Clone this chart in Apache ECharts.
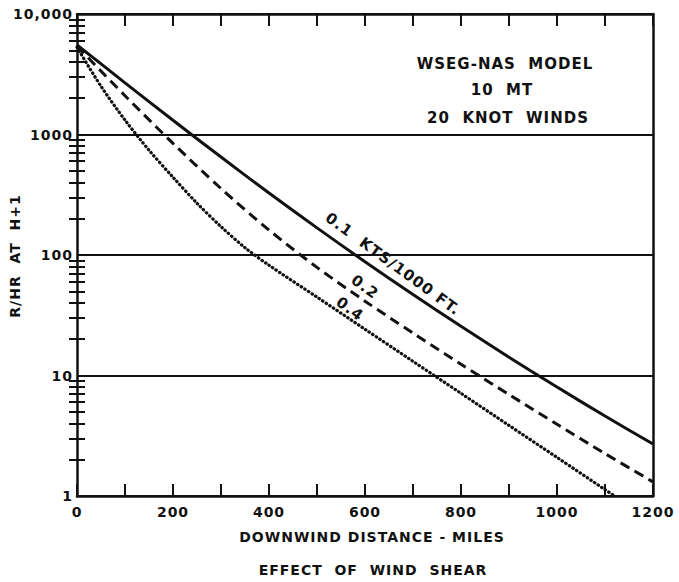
<!DOCTYPE html>
<html>
<head>
<meta charset="utf-8">
<script src="https://cdn.jsdelivr.net/npm/echarts@6/dist/echarts.min.js"></script>
<style>
  html, body { margin: 0; padding: 0; background: #ffffff; }
  #chart { width: 679px; height: 582px; }
  #chart text { letter-spacing: 1px; }
</style>
</head>
<body>
<div id="chart"></div>
<script>
// Downwind distance (miles) at which each curve is sampled
const distanceMiles = [0, 100, 200, 300, 400, 500, 600, 700, 800, 900, 1000, 1100, 1200];
const distanceMilesShear04 = [0, 50, 100, 150, 200, 250, 300, 350, 400, 500, 600, 700, 800, 900, 1000, 1100, 1120];

// Dose rate (R/HR at H+1) for each wind shear value (kts/1000 ft)
const rateShear01 = [5534, 2685, 1312, 650, 327, 168, 87.9, 47.0, 25.6, 14.2, 8.02, 4.61, 2.70];
const rateShear02 = [5395, 2099, 845, 356, 161, 78.9, 41.4, 22.5, 12.4, 6.95, 3.94, 2.25, 1.31];
const rateShear04 = [5297, 2512, 1318, 741, 442, 269, 172, 115, 82.2, 44.7, 24.2, 13.1, 7.11, 3.85, 2.09, 1.13, 1.0];

// Axis labels
const xTickLabels = [0, 200, 400, 600, 800, 1000, 1200];
const yTickLabels = { 1: '1', 10: '10', 100: '100', 1000: '1000', 10000: '10,000' };

const annotationLines = ['WSEG-NAS  MODEL', '10  MT', '20  KNOT  WINDS'];
const curveLabels = ['0.1  KTS/1000 FT.', '0.2', '0.4'];
const xTitle = 'DOWNWIND DISTANCE - MILES';
const subTitle = 'EFFECT  OF  WIND  SHEAR';
const yTitle = 'R/HR  AT  H+1';

const INK = '#111111';
const FONT = '"DejaVu Sans", "Liberation Sans", sans-serif';

const pairs = (xs, ys) => xs.map((x, i) => [x, ys[i]]);

// minor tick positions (2..9 inside each decade) on a log10 helper axis
const minorLogTicks = [];
for (let d = 0; d < 4; d++) {
  for (let k = 2; k <= 9; k++) minorLogTicks.push(d + Math.log10(k));
}

const chart = echarts.init(document.getElementById('chart'), null, { renderer: 'svg' });

const baseX = {
  type: 'value', min: 0, max: 1200, interval: 100,
  axisLine: { show: true, onZero: false, lineStyle: { color: INK, width: 2.5 } },
  axisTick: { show: true, inside: true, length: 12, lineStyle: { color: INK, width: 2 } },
  splitLine: { show: false }
};

const logY = {
  type: 'log', logBase: 10, min: 1, max: 10000,
  axisLine: { show: true, onZero: false, lineStyle: { color: INK, width: 2.5 } },
  axisTick: { show: false },
  minorTick: { show: false },
  splitLine: { show: false }
};

const minorY = {
  type: 'value', min: 0, max: 4, interval: 1,
  axisLine: { show: false },
  axisLabel: { show: false },
  splitLine: { show: false },
  axisTick: {
    show: true, inside: true, length: 8, customValues: minorLogTicks,
    lineStyle: { color: INK, width: 2 }
  }
};

const textStyle = (size) => ({ fontFamily: FONT, fontSize: size, fontWeight: 'bold', fill: INK });
const label = (text, x, y, size, rotation) => ({
  type: 'text', x: x, y: y, rotation: rotation || 0,
  style: Object.assign(textStyle(size), { text: text, align: 'center', verticalAlign: 'middle' })
});

chart.setOption({
  animation: false,
  backgroundColor: '#ffffff',
  grid: { left: 77, right: 26, top: 14, bottom: 86, containLabel: false },
  xAxis: [
    Object.assign({}, baseX, {
      position: 'bottom',
      axisLabel: {
        show: true, margin: 9, color: INK, fontFamily: FONT, fontSize: 14, fontWeight: 'bold',
        formatter: v => (xTickLabels.indexOf(v) >= 0 ? String(v) : '')
      }
    }),
    Object.assign({}, baseX, { position: 'top', axisLabel: { show: false } })
  ],
  yAxis: [
    Object.assign({}, logY, {
      position: 'left',
      splitLine: { show: true, lineStyle: { color: INK, width: 2 } },
      axisLabel: {
        show: true, margin: 4, color: INK, fontFamily: FONT, fontSize: 14, fontWeight: 'bold',
        formatter: v => yTickLabels[v] || ''
      }
    }),
    Object.assign({}, logY, { position: 'right', axisLabel: { show: false } }),
    Object.assign({}, minorY, { position: 'left' }),
    Object.assign({}, minorY, { position: 'right' })
  ],
  series: [
    {
      name: '0.1', type: 'line', xAxisIndex: 0, yAxisIndex: 0,
      data: pairs(distanceMiles, rateShear01), smooth: 0.3, showSymbol: false, symbol: 'none',
      lineStyle: { color: INK, width: 3, type: 'solid' }
    },
    {
      name: '0.2', type: 'line', xAxisIndex: 0, yAxisIndex: 0,
      data: pairs(distanceMiles, rateShear02), smooth: 0.3, showSymbol: false, symbol: 'none',
      lineStyle: { color: INK, width: 3, type: [10, 6] }
    },
    {
      name: '0.4', type: 'line', xAxisIndex: 0, yAxisIndex: 0,
      data: pairs(distanceMilesShear04, rateShear04), smooth: 0.3, showSymbol: false, symbol: 'none',
      lineStyle: { color: INK, width: 3.2, type: [0.5, 3.8], cap: 'round' }
    }
  ],
  graphic: [
    label(annotationLines[0], 505, 64, 15),
    label(annotationLines[1], 502, 90, 15),
    label(annotationLines[2], 508, 118, 15),
    label(curveLabels[0], 393, 264, 15, -0.63),
    label(curveLabels[1], 365, 287, 15, -0.63),
    label(curveLabels[2], 350, 309, 15, -0.63),
    label(xTitle, 372, 537, 14),
    label(subTitle, 373, 570, 14),
    label(yTitle, 15, 256, 14, Math.PI / 2)
  ]
});
</script>
</body>
</html>
